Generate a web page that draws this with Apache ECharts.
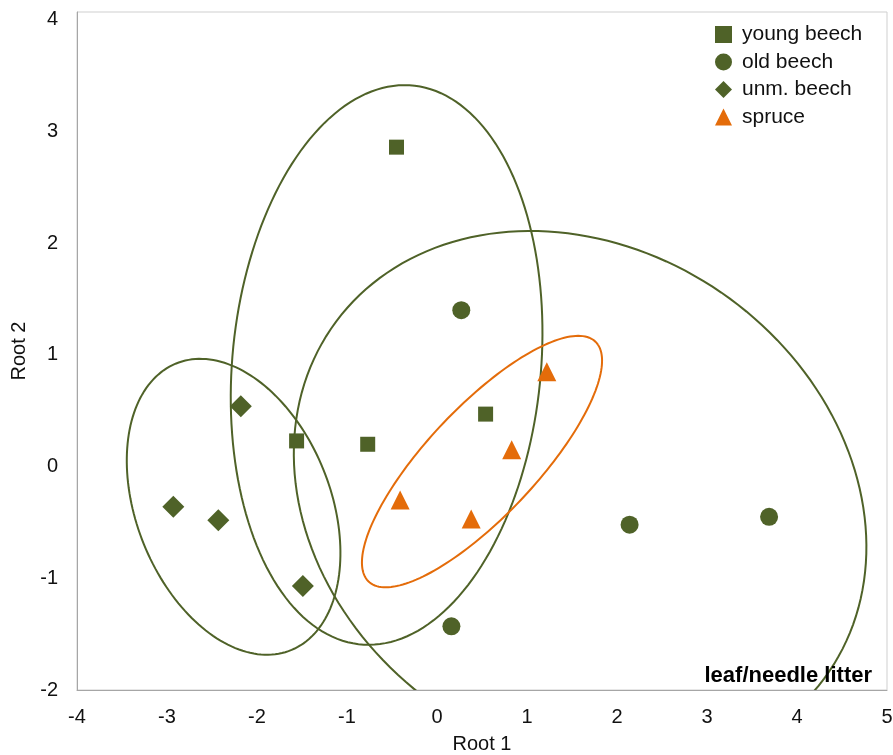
<!DOCTYPE html>
<html>
<head>
<meta charset="utf-8">
<script src="https://cdn.jsdelivr.net/npm/echarts@6/dist/echarts.min.js"></script>
<style>html,body{margin:0;padding:0;background:#fff}#c{width:893px;height:755px}</style>
</head>
<body>
<div id="c"></div>
<script>
// ---- data ----
var seriesNames = ['young beech', 'old beech', 'unm. beech', 'spruce'];
var youngBeech = [[-0.45, 2.86], [-1.56, 0.23], [-0.77, 0.20], [0.54, 0.47]];
var oldBeech = [[0.27, 1.40], [2.14, -0.52], [3.69, -0.45], [0.16, -1.43]];
var unmBeech = [[-2.18, 0.54], [-2.93, -0.36], [-2.43, -0.48], [-1.49, -1.07]];
var spruce = [[1.22, 0.85], [0.83, 0.15], [-0.41, -0.30], [0.38, -0.47]];
// ellipses: centre x, centre y, semi-axis a, semi-axis b, rotation (deg)
var ellipseGroup = ['young beech', 'old beech', 'unm. beech', 'spruce'];
var ellipseCx = [-0.56, 1.59, -2.26, 0.50];
var ellipseCy = [0.91, -0.30, -0.36, 0.045];
var ellipseA = [2.52, 3.24, 1.45, 1.66];
var ellipseB = [1.71, 2.33, 1.03, 0.54];
var ellipseAngle = [81.5, -15.85, -54.7, 39.0];
var xTicks = [-4, -3, -2, -1, 0, 1, 2, 3, 4, 5];
var yTicks = [-2, -1, 0, 1, 2, 3, 4];

var GREEN = '#4F6228', ORANGE = '#E46C0A';
var FONT = '"Liberation Sans", Arial, Helvetica, sans-serif';
var colorOf = {'young beech': GREEN, 'old beech': GREEN, 'unm. beech': GREEN, 'spruce': ORANGE};

var ellipseData = ellipseGroup.map(function (g, i) {
  return [ellipseCx[i], ellipseCy[i], ellipseA[i], ellipseB[i], ellipseAngle[i], i];
});

function renderEllipse(params, api) {
  var cx = api.value(0), cy = api.value(1), a = api.value(2), b = api.value(3);
  var th = api.value(4) * Math.PI / 180;
  var idx = api.value(5);
  var pts = [];
  var N = 180;
  for (var k = 0; k <= N; k++) {
    var t = 2 * Math.PI * k / N;
    var x = cx + a * Math.cos(th) * Math.cos(t) - b * Math.sin(th) * Math.sin(t);
    var y = cy + a * Math.sin(th) * Math.cos(t) + b * Math.cos(th) * Math.sin(t);
    pts.push(api.coord([x, y]));
  }
  return {
    type: 'polyline',
    shape: {points: pts},
    style: {fill: null, stroke: colorOf[ellipseGroup[idx]], lineWidth: 2}
  };
}

var chart = echarts.init(document.getElementById('c'), null, {renderer: 'canvas'});
var symbols = ['rect', 'circle', 'diamond', 'triangle'];
var sizes = [15, 18, 22, 19];
var datas = [youngBeech, oldBeech, unmBeech, spruce];

var series = [{
  type: 'custom',
  name: 'ellipses',
  renderItem: renderEllipse,
  data: ellipseData,
  clip: true,
  silent: true,
  z: 1,
  encode: {x: 0, y: 1}
}];
seriesNames.forEach(function (n, i) {
  series.push({
    type: 'scatter',
    name: n,
    data: datas[i],
    symbol: symbols[i],
    symbolSize: sizes[i],
    itemStyle: {color: colorOf[n], opacity: 1},
    z: 3
  });
});

chart.setOption({
  animation: false,
  backgroundColor: '#fff',
  textStyle: {fontFamily: FONT},
  title: {
    text: 'leaf/needle litter',
    right: 16, top: 660,
    textStyle: {fontFamily: FONT, fontSize: 22, fontWeight: 'bold', color: '#000'}
  },
  legend: {
    data: seriesNames.map(function (n, i) { return {name: n, icon: symbols[i]}; }),
    orient: 'vertical',
    left: 710, top: 19,
    itemWidth: 17, itemHeight: 17, itemGap: 6.5,
    textStyle: {fontFamily: FONT, fontSize: 21, color: '#111', padding: [0, 0, 0, 5]},
    selectedMode: false
  },
  grid: {
    left: 77, right: 6, top: 12, bottom: 65,
    containLabel: false, outerBoundsMode: 'none',
    show: true, borderColor: '#cfcfcf', borderWidth: 1, backgroundColor: '#fff'
  },
  xAxis: {
    type: 'value', min: xTicks[0], max: xTicks[xTicks.length - 1], interval: 1,
    name: 'Root 1', nameLocation: 'middle', nameGap: 44,
    nameTextStyle: {fontFamily: FONT, fontSize: 20, color: '#111'},
    axisLine: {show: true, onZero: false, lineStyle: {color: '#a6a6a6', width: 1}},
    axisTick: {show: false},
    splitLine: {show: false},
    axisLabel: {fontFamily: FONT, fontSize: 20, color: '#111', margin: 17}
  },
  yAxis: {
    type: 'value', min: yTicks[0], max: 4.07, interval: 1,
    name: 'Root 2', nameLocation: 'middle', nameGap: 46, nameRotate: 90,
    nameTextStyle: {fontFamily: FONT, fontSize: 20, color: '#111'},
    axisLine: {show: true, onZero: false, lineStyle: {color: '#a6a6a6', width: 1}},
    axisTick: {show: false},
    splitLine: {show: false},
    axisLabel: {fontFamily: FONT, fontSize: 20, color: '#111', margin: 19, showMaxLabel: false,
      formatter: function (v) { return yTicks.indexOf(v) >= 0 ? String(v) : ''; }}
  },
  series: series
});
</script>
</body>
</html>
